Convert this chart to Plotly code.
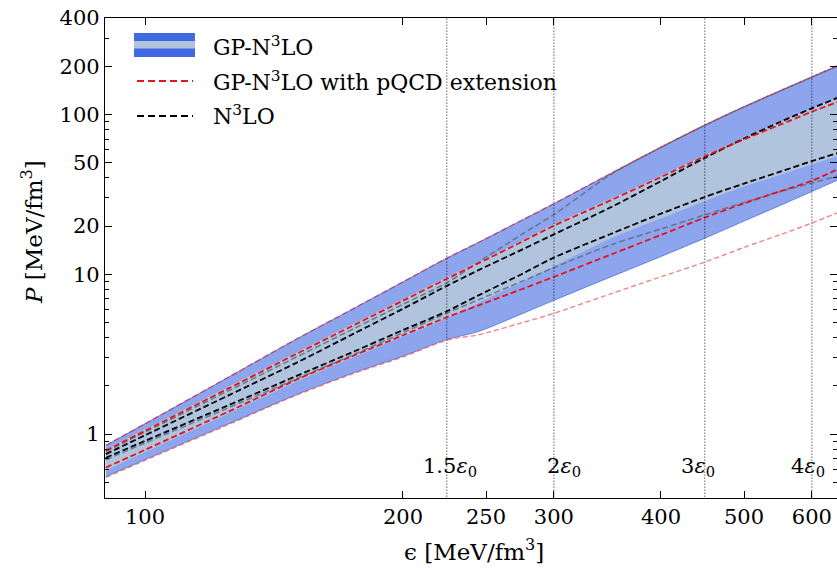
import numpy as np
import plotly.graph_objects as go

# energy density grid [MeV/fm^3]
eps = [90, 100, 125, 150, 175, 200, 225, 245, 275, 300, 350, 400, 450, 500, 550, 600, 650]

# GP-N3LO bands: outer (95%) and inner (68%) pressure bounds [MeV/fm^3]
gp_outer_hi = [0.85, 1.16, 2.26, 3.91, 6.08, 8.95, 12.6, 15.8, 21.7, 27.6, 42.8, 62.2, 85.5, 111.3, 139.6, 171.0, 206.0]
gp_outer_lo = [0.541, 0.691, 1.155, 1.758, 2.41, 3.07, 3.90, 4.38, 5.64, 6.86, 9.64, 12.9, 16.8, 21.5, 26.8, 32.9, 39.8]
gp_inner_hi = [0.80, 1.07, 1.97, 3.23, 4.89, 6.98, 9.57, 11.95, 16.2, 20.5, 29.7, 41.3, 55.5, 71.5, 90.0, 109.0, 131.0]
gp_inner_lo = [0.590, 0.769, 1.34, 2.12, 3.01, 4.07, 5.31, 6.61, 8.90, 11.2, 16.8, 22.3, 28.6, 35.3, 41.6, 48.5, 55.8]

# GP-N3LO with pQCD extension
pqcd_outer_hi = gp_outer_hi
pqcd_outer_lo = [0.535, 0.685, 1.145, 1.745, 2.39, 3.04, 3.87, 4.18, 4.96, 5.69, 7.56, 9.63, 11.9, 14.7, 17.6, 20.9, 24.8]
pqcd_inner_hi = [0.788, 1.048, 1.923, 3.16, 4.78, 6.83, 9.36, 11.7, 15.9, 20.1, 29.1, 40.5, 54.6, 69.7, 85.8, 103.8, 122.0]
pqcd_inner_lo = [0.617, 0.796, 1.377, 2.18, 3.09, 4.15, 5.38, 6.38, 8.05, 9.62, 13.3, 17.6, 22.6, 27.7, 32.9, 38.4, 46.6]

# N3LO band
n3lo_hi = [0.749, 0.982, 1.74, 2.78, 4.23, 6.08, 8.45, 10.6, 14.2, 17.75, 26.3, 38.2, 53.4, 70.6, 89.2, 109.0, 129.9]
n3lo_lo = [0.711, 0.906, 1.51, 2.30, 3.27, 4.47, 5.86, 7.37, 10.0, 12.7, 17.9, 23.9, 30.4, 36.9, 43.6, 51.0, 58.3]

# GP reference bounds (grey)
gp_ref_hi = [0.776, 1.028, 1.86, 3.02, 4.55, 6.48, 8.84, 11.9, 17.7, 23.6, 42.2, 62.2, 85.5, 111.3, 139.6, 171.0, 206.0]
gp_ref_lo = [0.691, 0.879, 1.458, 2.21, 3.14, 4.31, 5.70, 6.92, 9.0, 11.0, 15.3, 19.2, 23.5, 28.1, 32.8, 37.2, 41.8]

# saturation density multiples
EPS0 = 150.0
eps0_mult = [1.5, 2, 3, 4]
eps0_text = ["1.5", "2", "3", "4"]
eps0_xshift = [3, 10, -7, -4]

x_ticks = [100, 200, 250, 300, 400, 500, 600]
y_ticks = [1, 10, 20, 50, 100, 200, 400]
y_minor = [0.5, 0.6, 0.7, 0.8, 0.9, 2, 3, 4, 5, 6, 7, 8, 9, 30, 40, 60, 70, 80, 90, 300]

FONT = "DejaVu Serif"
ROYAL = "rgb(65,105,225)"
STEEL = "rgb(176,196,222)"
RED = "rgb(228,20,28)"
SMOOTH = 0.8

# plot-area geometry in pixels
FW, FH = 837, 568
L, T, R, B = 105, 18, 0, 70
W, H = FW - L - R, FH - T - B


def px(x):
    return (x - L) / W


def py(y):
    return (T + H - y) / H


fig = go.Figure()


def band(lo, hi, fill, line):
    fig.add_trace(go.Scatter(x=eps, y=lo, mode="lines", hoverinfo="skip", showlegend=False,
                             line=dict(color=line, width=1, shape="spline", smoothing=SMOOTH)))
    fig.add_trace(go.Scatter(x=eps, y=hi, mode="lines", fill="tonexty", fillcolor=fill,
                             hoverinfo="skip", showlegend=False,
                             line=dict(color=line, width=1, shape="spline", smoothing=SMOOTH)))


band(gp_outer_lo, gp_outer_hi, "rgba(65,105,225,0.6)", "rgba(65,105,225,0.75)")
band(gp_inner_lo, gp_inner_hi, STEEL, "rgba(176,196,222,0)")


def dashed(y, color, width=1.8, dash="6px,3px"):
    fig.add_trace(go.Scatter(x=eps, y=y, mode="lines", hoverinfo="skip", showlegend=False,
                             line=dict(color=color, width=width, dash=dash,
                                       shape="spline", smoothing=SMOOTH)))


dashed(gp_ref_hi, "rgba(95,110,135,0.85)", 1.6)
dashed(gp_ref_lo, "rgba(95,110,135,0.85)", 1.6)
dashed(n3lo_hi, "black")
dashed(n3lo_lo, "black")
dashed(pqcd_inner_hi, RED)
dashed(pqcd_inner_lo, RED)
dashed(pqcd_outer_hi, "rgba(228,20,28,0.55)", 1.5)
dashed(pqcd_outer_lo, "rgba(240,90,90,0.75)", 1.4, "5px,3px")

# vertical markers at multiples of the saturation energy density
for m, t, xs in zip(eps0_mult, eps0_text, eps0_xshift):
    xv = m * EPS0
    fig.add_trace(go.Scatter(x=[xv, xv], y=[0.3, 500], mode="lines", hoverinfo="skip",
                             showlegend=False, line=dict(color="black", width=0.9, dash="1px,2px")))
    fig.add_annotation(x=np.log10(xv), xref="x", y=py(467), yref="paper", xshift=xs,
                       text=f"{t}<i>ε</i><sub>0</sub>", showarrow=False,
                       font=dict(family=FONT, size=21, color="black"),
                       xanchor="center", yanchor="middle")

# legend
fig.add_shape(type="rect", xref="paper", yref="paper", x0=px(134), x1=px(195), y0=py(57), y1=py(33),
              fillcolor=ROYAL, line=dict(width=0), layer="above")
fig.add_shape(type="rect", xref="paper", yref="paper", x0=px(134), x1=px(195), y0=py(48.5), y1=py(41),
              fillcolor=STEEL, line=dict(width=0), layer="above")
fig.add_shape(type="line", xref="paper", yref="paper", x0=px(137), x1=px(193), y0=py(81), y1=py(81),
              line=dict(color=RED, width=2, dash="7px,4px"))
fig.add_shape(type="line", xref="paper", yref="paper", x0=px(137), x1=px(193), y0=py(116), y1=py(116),
              line=dict(color="black", width=2, dash="7px,4px"))
legend_text = ["GP-N<sup>3</sup>LO", "GP-N<sup>3</sup>LO with pQCD extension", "N<sup>3</sup>LO"]
legend_y = [46, 81, 115]
for txt, yy in zip(legend_text, legend_y):
    fig.add_annotation(x=px(211), y=py(yy), xref="paper", yref="paper", text=txt, showarrow=False,
                       xanchor="left", yanchor="middle", font=dict(family=FONT, size=22, color="black"))

# axis titles
fig.add_annotation(x=px(474), y=py(550), xref="paper", yref="paper", text="ϵ [MeV/fm<sup>3</sup>]",
                   showarrow=False, xanchor="center", yanchor="middle",
                   font=dict(family=FONT, size=23, color="black"))
fig.add_annotation(x=px(32), y=py(232), xref="paper", yref="paper", text="<i>P</i> [MeV/fm<sup>3</sup>]",
                   showarrow=False, xanchor="center", yanchor="middle", textangle=-90,
                   font=dict(family=FONT, size=23, color="black"))

x_lo = 10 ** (2 - 40 / 857)
x_hi = 10 ** (2 + (837 - 145) / 857)

fig.update_layout(
    width=FW, height=FH, margin=dict(l=L, r=R, t=T, b=B),
    paper_bgcolor="white", plot_bgcolor="white",
    font=dict(family=FONT, size=21, color="black"),
    xaxis=dict(type="log", range=[np.log10(x_lo), np.log10(x_hi)], tickvals=x_ticks,
               ticktext=[str(v) for v in x_ticks], ticks="inside", ticklen=7, tickwidth=1,
               tickcolor="black", showline=True, linecolor="black", linewidth=1.3, mirror="ticks",
               showgrid=False, zeroline=False, tickfont=dict(family=FONT, size=21)),
    yaxis=dict(type="log", range=[-0.4, 2.6025], tickvals=y_ticks,
               ticktext=[str(v) for v in y_ticks], ticks="inside", ticklen=7, tickwidth=1,
               tickcolor="black", showline=True, linecolor="black", linewidth=1.3, mirror="ticks",
               showgrid=False, zeroline=False, tickfont=dict(family=FONT, size=21),
               minor=dict(tickvals=y_minor, ticks="inside", ticklen=4, tickcolor="black", tickwidth=1,
                          showgrid=False)),
)

fig.write_html("out.html")
